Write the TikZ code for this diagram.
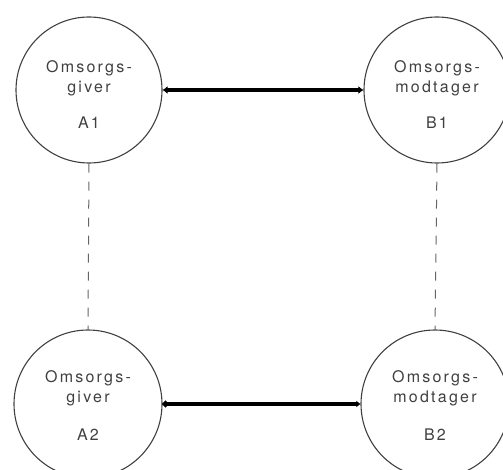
\documentclass[tikz,border=0pt]{standalone}
\usepackage{fontspec}
\setmainfont{TeX Gyre Heros}[LetterSpace=14]
\usetikzlibrary{arrows.meta}
\begin{document}
\begin{tikzpicture}[x=1pt,y=-1pt,
  party/.style={circle,draw=black!75,line width=1.1pt,minimum size=146pt,inner sep=0pt},
  lbl/.style={text=black!75,font=\fontsize{16}{20}\selectfont,align=center},
  bond/.style={line width=4pt,black},
  link/.style={draw=black!60,line width=1pt,dash pattern=on 9pt off 9pt}]
\useasboundingbox (0,0) rectangle (503,470);
% the four persons
\node[party] (A1) at (89,90) {};
\node[party] (B1) at (437,90) {};
\node[party,minimum size=148pt] (A2) at (88,404) {};
\node[party,minimum size=148pt] (B2) at (435,404) {};
% labels inside the circles
\node[lbl] (tA1) at (89,78) {Omsorgs-\\giver};
\node[lbl] (nA1) at (89,123) {A1};
\node[lbl] (tB1) at (437,78) {Omsorgs-\\modtager};
\node[lbl] (nB1) at (437,123) {B1};
\node[lbl] (tA2) at (88,388) {Omsorgs-\\giver};
\node[lbl] (nA2) at (88,435) {A2};
\node[lbl] (tB2) at (435,388) {Omsorgs-\\modtager};
\node[lbl] (nB2) at (435,435) {B2};
% care relations
\draw[bond,{Latex[length=5pt,width=8pt]}-{Latex[length=5pt,width=8pt]}] (A1.east) -- (B1.west);
\draw[bond,line width=3.4pt,{Circle[length=6pt]}-{Latex[length=4pt,width=7pt]}] (A2.east) -- (B2.west);
% dashed vertical links
\draw[link] (A1.south) -- (A2.north);
\draw[link] (B1.south) -- (B2.north);
\end{tikzpicture}
\end{document}
